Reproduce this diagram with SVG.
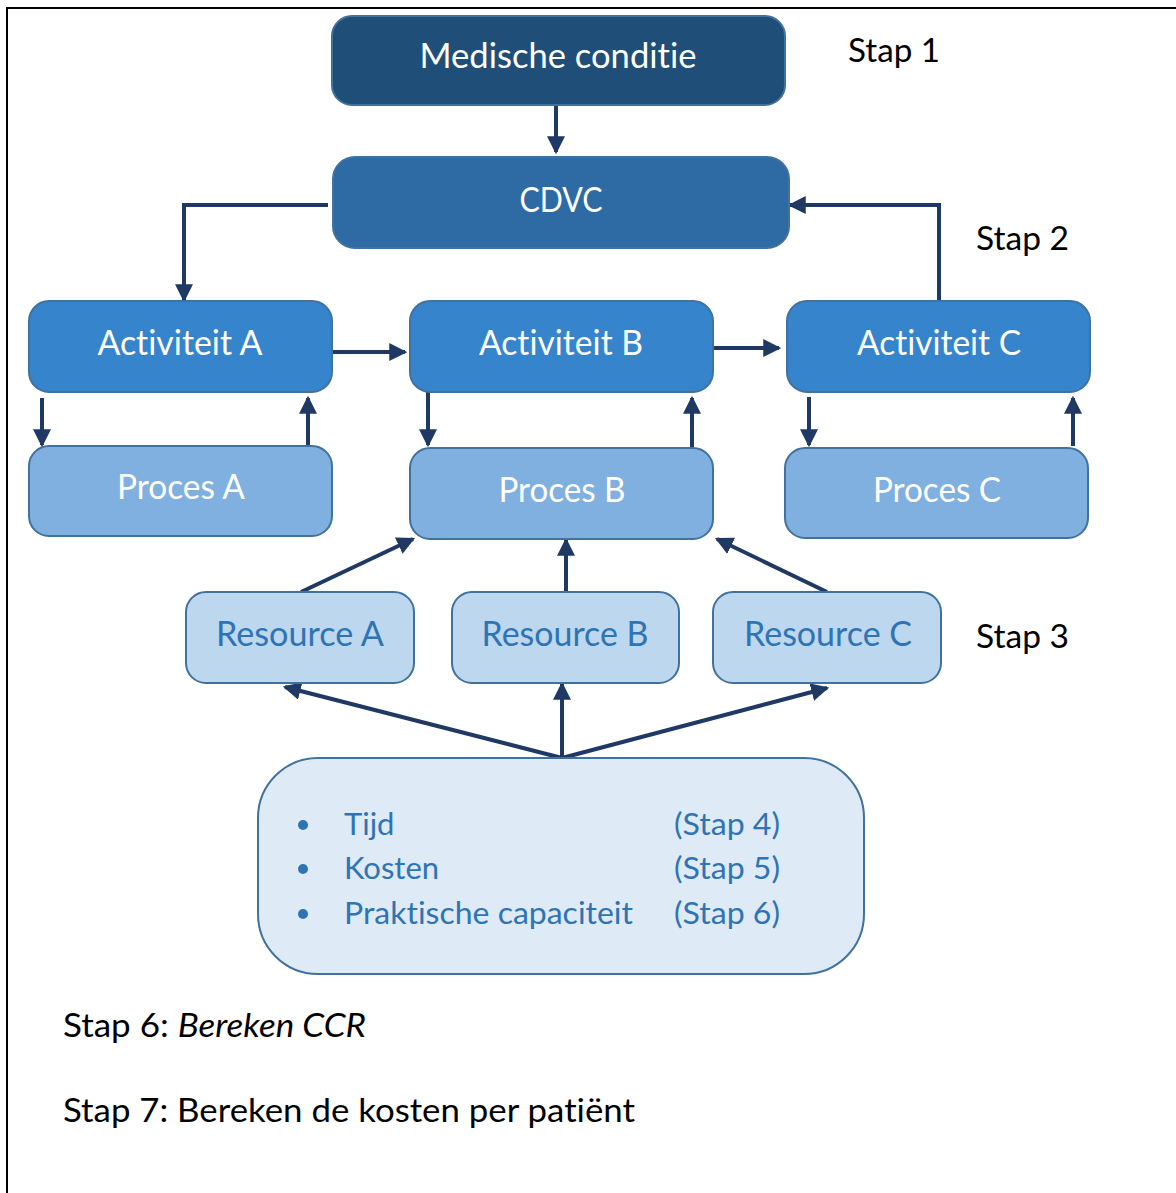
<svg xmlns="http://www.w3.org/2000/svg" width="1176" height="1193" viewBox="0 0 1176 1193">
<style>
text{font-variant-ligatures:none}
.box{stroke:#41719C;stroke-width:2}
.t{font-family:Lato,"Open Sans","Liberation Sans",sans-serif;text-anchor:middle;font-size:34px}
.w{fill:#ffffff}
.b{fill:#2E74B5}
.c{stroke:#1F3864;stroke-width:4;fill:none}
</style>
<defs>
<marker id="ah" markerUnits="userSpaceOnUse" markerWidth="18" markerHeight="18" refX="14" refY="8" orient="auto" viewBox="0 0 16 16">
<path d="M0,0 L16,8 L0,16 Z" fill="#1F3864"/>
</marker>
</defs>
<rect width="1176" height="1193" fill="#ffffff"/>
<path d="M7,1193 V8 H1176" fill="none" stroke="#000" stroke-width="2"/>
<g id="connectors">
<line class="c" x1="556" y1="105" x2="556" y2="152" marker-end="url(#ah)"/>
<polyline class="c" points="328,205 184,205 184,300" marker-end="url(#ah)"/>
<polyline class="c" points="939,300 939,205 790,205" marker-end="url(#ah)"/>
<line class="c" x1="333" y1="352" x2="405" y2="352" marker-end="url(#ah)"/>
<line class="c" x1="713" y1="348" x2="779" y2="348" marker-end="url(#ah)"/>
<line class="c" x1="42" y1="398" x2="42" y2="445" marker-end="url(#ah)"/>
<line class="c" x1="308" y1="446" x2="308" y2="398" marker-end="url(#ah)"/>
<line class="c" x1="428" y1="392" x2="428" y2="445" marker-end="url(#ah)"/>
<line class="c" x1="692" y1="447" x2="692" y2="398" marker-end="url(#ah)"/>
<line class="c" x1="809" y1="397" x2="809" y2="445" marker-end="url(#ah)"/>
<line class="c" x1="1073" y1="446" x2="1073" y2="398" marker-end="url(#ah)"/>
<line class="c" x1="301" y1="592" x2="413" y2="539" marker-end="url(#ah)" stroke-width="5"/>
<line class="c" x1="566" y1="592" x2="566" y2="540" marker-end="url(#ah)" stroke-width="3.5"/>
<line class="c" x1="827" y1="592" x2="717" y2="539" marker-end="url(#ah)" stroke-width="5"/>
<line class="c" x1="562" y1="758" x2="285" y2="687" marker-end="url(#ah)"/>
<line class="c" x1="562" y1="758" x2="562" y2="684" marker-end="url(#ah)"/>
<line class="c" x1="562" y1="758" x2="827" y2="688" marker-end="url(#ah)" stroke-width="5"/>
</g>
<g id="medische"><rect class="box" x="332" y="16" width="453" height="89" rx="20" fill="#1F4E79" stroke="#1F4E79"/><text class="t w" x="558" y="68" textLength="277" lengthAdjust="spacingAndGlyphs">Medische conditie</text></g>
<g id="cdvc"><rect class="box" x="333" y="157" width="456" height="91" rx="22" fill="#2E6BA4" stroke="#4878A8"/><text class="t w" x="561" y="212" textLength="83" lengthAdjust="spacingAndGlyphs">CDVC</text></g>
<g id="actA"><rect class="box" x="29" y="301" width="303" height="91" rx="20" fill="#3584CC"/><text class="t w" x="180" y="355" textLength="165" lengthAdjust="spacingAndGlyphs">Activiteit A</text></g>
<g id="actB"><rect class="box" x="410" y="301" width="303" height="91" rx="20" fill="#3584CC"/><text class="t w" x="561" y="355" textLength="164" lengthAdjust="spacingAndGlyphs">Activiteit B</text></g>
<g id="actC"><rect class="box" x="787" y="301" width="303" height="91" rx="20" fill="#3584CC"/><text class="t w" x="939" y="355" textLength="164" lengthAdjust="spacingAndGlyphs">Activiteit C</text></g>
<g id="procA"><rect class="box" x="29" y="446" width="303" height="90" rx="20" fill="#7FB0DF"/><text class="t w" x="181" y="499" textLength="128" lengthAdjust="spacingAndGlyphs">Proces A</text></g>
<g id="procB"><rect class="box" x="410" y="448" width="303" height="91" rx="20" fill="#7FB0DF"/><text class="t w" x="562" y="502" textLength="127" lengthAdjust="spacingAndGlyphs">Proces B</text></g>
<g id="procC"><rect class="box" x="785" y="448" width="303" height="90" rx="20" fill="#7FB0DF"/><text class="t w" x="937" y="502" textLength="128" lengthAdjust="spacingAndGlyphs">Proces C</text></g>
<g id="resA"><rect class="box" x="186" y="592" width="228" height="91" rx="20" fill="#BDD7EE"/><text class="t b" x="300" y="646" textLength="168" lengthAdjust="spacingAndGlyphs">Resource A</text></g>
<g id="resB"><rect class="box" x="452" y="592" width="227" height="91" rx="20" fill="#BDD7EE"/><text class="t b" x="565" y="646" textLength="167" lengthAdjust="spacingAndGlyphs">Resource B</text></g>
<g id="resC"><rect class="box" x="713" y="592" width="228" height="91" rx="20" fill="#BDD7EE"/><text class="t b" x="828" y="646" textLength="168" lengthAdjust="spacingAndGlyphs">Resource C</text></g>
<g id="bottom"><rect class="box" x="258" y="758" width="606" height="216" rx="60" fill="#DEEAF6"/>
<circle cx="303" cy="825" r="5" fill="#2E74B5"/>
<circle cx="303" cy="869" r="5" fill="#2E74B5"/>
<circle cx="303" cy="914" r="5" fill="#2E74B5"/>
<text class="b" font-family="Lato,'Open Sans','Liberation Sans',sans-serif" font-size="31" x="344" y="835">Tijd</text>
<text class="b" font-family="Lato,'Open Sans','Liberation Sans',sans-serif" font-size="31" x="344" y="879">Kosten</text>
<text class="b" font-family="Lato,'Open Sans','Liberation Sans',sans-serif" font-size="31" x="344" y="924" textLength="289" lengthAdjust="spacingAndGlyphs">Praktische capaciteit</text>
<text class="b" font-family="Lato,'Open Sans','Liberation Sans',sans-serif" font-size="31" x="674" y="835" textLength="106" lengthAdjust="spacingAndGlyphs">(Stap 4)</text>
<text class="b" font-family="Lato,'Open Sans','Liberation Sans',sans-serif" font-size="31" x="674" y="879" textLength="106" lengthAdjust="spacingAndGlyphs">(Stap 5)</text>
<text class="b" font-family="Lato,'Open Sans','Liberation Sans',sans-serif" font-size="31" x="674" y="924" textLength="106" lengthAdjust="spacingAndGlyphs">(Stap 6)</text>
</g>
<g id="labels" font-family="Lato,'Open Sans','Liberation Sans',sans-serif" font-size="32" fill="#000">
<text x="848" y="62" textLength="92" lengthAdjust="spacingAndGlyphs">Stap 1</text>
<text x="976" y="250" textLength="93" lengthAdjust="spacingAndGlyphs">Stap 2</text>
<text x="976" y="648" textLength="93" lengthAdjust="spacingAndGlyphs">Stap 3</text>
<text x="63" y="1037" textLength="303" lengthAdjust="spacingAndGlyphs">Stap 6: <tspan font-style="italic">Bereken CCR</tspan></text>
<text x="63" y="1122" textLength="572" lengthAdjust="spacingAndGlyphs">Stap 7: Bereken de kosten per patiënt</text>
</g>
</svg>
